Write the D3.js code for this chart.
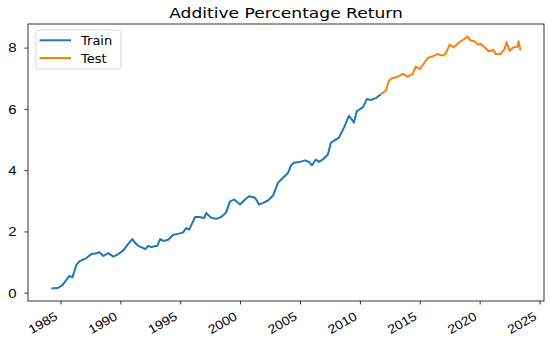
<!DOCTYPE html>
<html>

<head>
  <meta charset="UTF-8">
  <title>Additive Percentage Return</title>
  <script src="https://d3js.org/d3.v7.min.js"></script>
  <style>
    body { margin: 0; background: #fff; }
    svg { display: block; font-family: "DejaVu Sans", sans-serif; }
  </style>
</head>

<body>
  <svg></svg>
</body>

<script>
  let width = 550,
    height = 341;

  // values
  let trainDates = ["1984-04", "1984-11", "1985-03", "1985-07", "1985-10", "1986-01", "1986-05", "1986-08", "1986-12",
    "1987-03", "1987-08", "1988-01", "1988-04", "1988-08", "1989-01", "1989-06", "1989-10", "1990-04", "1990-08",
    "1991-01", "1991-04", "1991-07", "1991-10", "1992-02", "1992-05", "1992-08", "1993-02", "1993-05", "1993-08",
    "1994-01", "1994-06", "1994-11", "1995-04", "1995-07", "1995-10", "1996-04", "1996-08", "1997-01", "1997-03",
    "1997-08", "1998-01", "1998-06", "1998-11", "1999-03", "1999-07", "2000-01", "2000-06", "2000-10", "2001-04",
    "2001-08", "2001-12", "2002-05", "2002-10", "2003-03", "2003-08", "2004-01", "2004-04", "2004-07", "2005-01",
    "2005-06", "2005-10", "2006-01", "2006-05", "2006-08", "2006-12", "2007-05", "2007-08", "2008-01", "2008-04",
    "2008-09", "2009-02", "2009-06", "2009-07", "2009-10", "2010-04", "2010-08", "2010-12", "2011-05", "2011-10"];
  let trainValues = [0.14, 0.16, 0.25, 0.42, 0.55, 0.50, 0.91, 1.02, 1.09,
    1.13, 1.26, 1.29, 1.32, 1.20, 1.29, 1.18, 1.24, 1.38, 1.55,
    1.75, 1.62, 1.53, 1.49, 1.42, 1.53, 1.49, 1.53, 1.75, 1.69,
    1.73, 1.89, 1.92, 1.97, 2.11, 2.06, 2.47, 2.47, 2.44, 2.60,
    2.45, 2.41, 2.47, 2.62, 2.98, 3.04, 2.88, 3.04, 3.15, 3.10,
    2.88, 2.93, 3.01, 3.17, 3.59, 3.75, 3.91, 4.15, 4.24, 4.27,
    4.32, 4.27, 4.16, 4.35, 4.27, 4.35, 4.51, 4.90, 5.00, 5.06,
    5.39, 5.77, 5.61, 5.55, 5.93, 6.05, 6.32, 6.29, 6.35, 6.48];

  let testDates = ["2011-10", "2012-03", "2012-06", "2012-09", "2013-03", "2013-08", "2014-01", "2014-06", "2014-09",
    "2015-01", "2015-06", "2015-09", "2016-02", "2016-07", "2016-12", "2017-03", "2017-07", "2017-11", "2018-05",
    "2018-10", "2019-01", "2019-04", "2019-08", "2019-11", "2020-02", "2020-06", "2020-10", "2021-03", "2021-05",
    "2021-10", "2022-02", "2022-04", "2022-07", "2022-11", "2023-03", "2023-04", "2023-06"];
  let testValues = [6.48, 6.59, 6.92, 7.00, 7.05, 7.14, 7.05, 7.14, 7.38,
    7.30, 7.52, 7.66, 7.72, 7.79, 7.74, 7.80, 8.10, 8.01, 8.18,
    8.29, 8.36, 8.23, 8.21, 8.10, 8.12, 8.01, 7.88, 7.92, 7.79,
    7.79, 7.96, 8.18, 7.90, 8.01, 8.03, 8.21, 7.90];

  let xTickYears = [1985, 1990, 1995, 2000, 2005, 2010, 2015, 2020, 2025];
  let yTicks = [0, 2, 4, 6, 8];
  let seriesNames = ["Train", "Test"];
  let seriesColors = ["#1f77b4", "#ff7f0e"];

  let margin = { top: 24, right: 6, bottom: 40, left: 28 };
  let plotW = width - margin.left - margin.right,
    plotH = height - margin.top - margin.bottom;
  let stretch = 1.18; // text in the picture is a bit wider than tall

  let parse = d3.timeParse("%Y-%m");
  let train = trainDates.map((d, i) => ({ date: parse(d), value: trainValues[i] }));
  let test = testDates.map((d, i) => ({ date: parse(d), value: testValues[i] }));
  let all = train.concat(test);

  // matplotlib style 5% padding around the data
  let xExt = d3.extent(all, d => +d.date),
    yExt = d3.extent(all, d => d.value);
  let xPad = (xExt[1] - xExt[0]) * 0.05,
    yPad = (yExt[1] - yExt[0]) * 0.05;

  let x = d3.scaleTime()
    .domain([new Date(xExt[0] - xPad), new Date(xExt[1] + xPad)])
    .range([0, plotW]);
  let y = d3.scaleLinear()
    .domain([yExt[0] - yPad, yExt[1] + yPad])
    .range([plotH, 0]);

  let svg = d3.select("svg")
    .attr("width", width)
    .attr("height", height);

  svg.append("text")
    .attr("transform", "translate(" + (margin.left + plotW / 2) + ",17.5) scale(" + stretch + ",1)")
    .attr("text-anchor", "middle")
    .style("font-size", "14.5px")
    .text("Additive Percentage Return");

  let g = svg.append("g")
    .attr("transform", "translate(" + margin.left + "," + margin.top + ")");

  // x axis
  let xAxis = g.append("g")
    .attr("transform", "translate(0," + plotH + ")")
    .call(d3.axisBottom(x)
      .tickValues(xTickYears.map(yr => new Date(yr, 0, 1)))
      .tickFormat(d3.timeFormat("%Y"))
      .tickSizeInner(3.5)
      .tickSizeOuter(0));
  xAxis.select(".domain").remove();
  xAxis.selectAll("text")
    .style("font-size", "12.5px")
    .attr("fill", "#000")
    .attr("text-anchor", "end")
    .attr("y", 0)
    .attr("dy", "0.72em")
    .attr("transform", "translate(-7,10) rotate(-30) scale(1.12,1)");

  // y axis
  let yAxis = g.append("g")
    .call(d3.axisLeft(y)
      .tickValues(yTicks)
      .tickSizeInner(3.5)
      .tickSizeOuter(0));
  yAxis.select(".domain").remove();
  yAxis.selectAll("text")
    .style("font-size", "12px")
    .attr("fill", "#000")
    .attr("x", 0)
    .attr("transform", "translate(-11.5,0.5) scale(1.25,1)");
  g.selectAll(".tick line").attr("stroke", "#000").attr("stroke-width", 0.8);

  let line = d3.line()
    .x(d => x(d.date))
    .y(d => y(d.value));

  g.append("path")
    .datum(train)
    .attr("fill", "none")
    .attr("stroke", seriesColors[0])
    .attr("stroke-width", 2)
    .attr("stroke-linejoin", "round")
    .attr("d", line);

  g.append("path")
    .datum(test)
    .attr("fill", "none")
    .attr("stroke", seriesColors[1])
    .attr("stroke-width", 2)
    .attr("stroke-linejoin", "round")
    .attr("d", line);

  // frame
  g.append("rect")
    .attr("width", plotW)
    .attr("height", plotH)
    .attr("fill", "none")
    .attr("stroke", "#000")
    .attr("stroke-width", 0.8);

  // legend
  let legend = g.append("g").attr("transform", "translate(8,6)");
  legend.append("rect")
    .attr("width", 85)
    .attr("height", 39)
    .attr("rx", 3)
    .attr("fill", "#fff")
    .attr("fill-opacity", 0.8)
    .attr("stroke", "#d6d6d6")
    .attr("stroke-width", 1);

  let item = legend.selectAll(".item")
    .data(seriesNames)
    .enter()
    .append("g")
    .attr("transform", (d, i) => "translate(0," + (10.3 + i * 17.7) + ")");
  item.append("line")
    .attr("x1", 3.5)
    .attr("x2", 35)
    .attr("stroke", (d, i) => seriesColors[i])
    .attr("stroke-width", 2);
  item.append("text")
    .attr("x", 45)
    .attr("dy", "0.35em")
    .style("font-size", "13px")
    .text(d => d);
</script>

</html>
